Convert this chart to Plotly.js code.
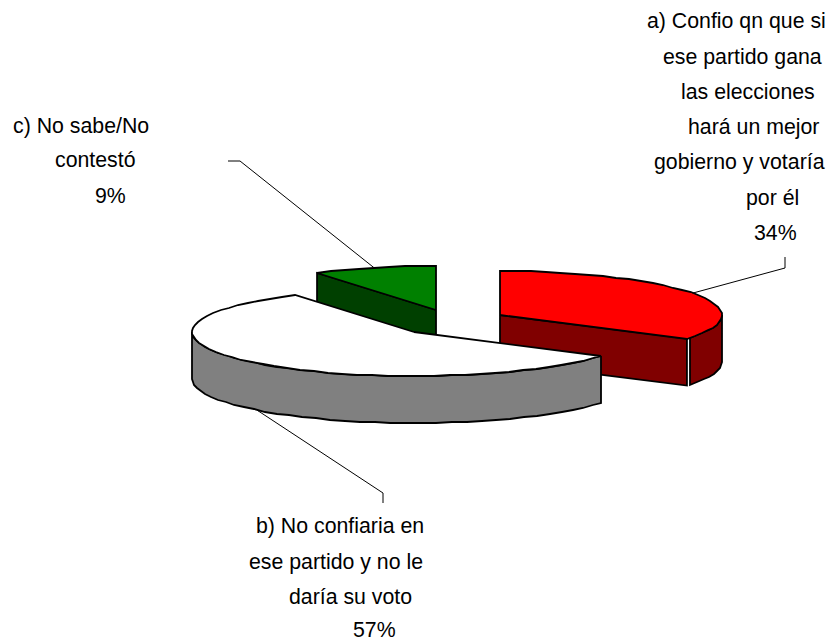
<!DOCTYPE html>
<html>
<head>
<meta charset="utf-8">
<script src="https://cdn.plot.ly/plotly-3.0.1.min.js"></script>
<style>html,body{margin:0;padding:0;background:#fff}#chart{width:830px;height:643px}</style>
</head>
<body>
<div id="chart"></div>
<script>
// Data
const categories = ["a", "b", "c"];
const values = [34, 57, 9];
const percentLabels = ["34%", "57%", "9%"];
const labelA = ["a) Confio qn que si", "ese partido gana", "las elecciones", "hará un mejor", "gobierno y votaría", "por él"];
const labelB = ["b) No confiaria en", "ese partido y no le", "daría su voto"];
const labelC = ["c) No sabe/No", "contestó"];

// Styles
const topColors = ["#ff0000", "#ffffff", "#008000"];
const sideColors = ["#800000", "#808080", "#004000"];

// Pie geometry (exploded 3D projection)
const rx = 222, ry = 44, depth = 47;
const centers = [[500, 315], [414, 332], [436, 310]];
const total = values.reduce((a, b) => a + b, 0);
const rad = d => d * Math.PI / 180;
const pt = (c, a, dz = 0) => [c[0] + rx * Math.sin(rad(a)), c[1] - ry * Math.cos(rad(a)) + dz];

let acc = 0;
const slices = values.map((v, i) => {
  const s = acc / total * 360; acc += v;
  return {start: s, end: acc / total * 360, mid: s + v / total * 180, c: centers[i]};
});

function arc(c, a0, a1, dz = 0) {
  const n = Math.max(2, Math.round(Math.abs(a1 - a0) / 4));
  const out = [];
  for (let i = 0; i <= n; i++) out.push(pt(c, a0 + (a1 - a0) * i / n, dz).map(Math.round));
  return out;
}
function poly(points, fill) {
  const p = points.concat([points[0]]);
  return {
    type: "scatter", mode: "lines",
    x: p.map(q => q[0]), y: p.map(q => q[1]),
    fill: "toself", fillcolor: fill,
    line: {color: "#000", width: 1.8, simplify: false},
    hoverinfo: "skip", showlegend: false
  };
}
function wire(points) {
  return {
    type: "scatter", mode: "lines",
    x: points.map(q => q[0]), y: points.map(q => q[1]),
    line: {color: "#000", width: 1},
    hoverinfo: "skip", showlegend: false
  };
}
const topFace = s => [s.c].concat(arc(s.c, s.start, s.end));
const radialFace = (s, a, gap = 0) => {
  const e = pt(s.c, a);
  return [s.c, [e[0] - gap, e[1]], [e[0] - gap, e[1] + depth], [s.c[0], s.c[1] + depth]];
};
const rimFace = (s, a0, a1) => arc(s.c, a0, a1).concat(arc(s.c, a1, a0, depth));

const [sa, sb, sc] = slices;
const traces = [
  // green slice
  poly(radialFace(sc, sc.start), sideColors[2]),
  poly(topFace(sc), topColors[2]),
  // red slice (a thin seam separates the two dark faces)
  poly(radialFace(sa, sa.end, 0.5), sideColors[0]),
  poly(rimFace(sa, 90, sa.end - 1.2), sideColors[0]),
  poly(topFace(sa), topColors[0]),
  // white slice
  poly(rimFace(sb, sb.start, 270), sideColors[1]),
  poly(topFace(sb), topColors[1]),
  // leader lines: start on each slice's mid-angle
  wire([pt(sa.c, sa.mid - 1), [785, 268], [785, 257]]),
  wire([pt(sb.c, sb.mid, depth), [383, 493], [383, 503]]),
  wire([pt(sc.c, sc.mid), [240, 161], [228, 161]])
];

// Label line positions: [left x, baseline y]
const posA = [[647, 26], [663, 62], [681, 97], [688, 132], [654, 167], [746, 203], [754, 238]];
const posB = [[256, 531], [249, 567], [289, 602], [353, 635]];
const posC = [[13, 131], [55, 165], [95, 201]];
const textLines = [
  [labelA.concat(percentLabels[0]), posA],
  [labelB.concat(percentLabels[1]), posB],
  [labelC.concat(percentLabels[2]), posC]
];
const annotations = [];
textLines.forEach(([lines, pos]) => lines.forEach((t, i) => annotations.push({
  text: t, x: pos[i][0], y: pos[i][1] - 5, xref: "x", yref: "y",
  xanchor: "left", yanchor: "middle", showarrow: false, borderpad: 0, borderwidth: 0,
  font: {family: "Liberation Sans, Arial, sans-serif", size: 21.3, color: "#000"}
})));

Plotly.newPlot("chart", traces, {
  width: 830, height: 643,
  margin: {l: 0, r: 0, t: 0, b: 0},
  paper_bgcolor: "#fff", plot_bgcolor: "#fff",
  xaxis: {range: [0, 830], visible: false, fixedrange: true},
  yaxis: {range: [643, 0], visible: false, fixedrange: true},
  showlegend: false,
  annotations
}, {displayModeBar: false, staticPlot: true});
</script>
</body>
</html>
